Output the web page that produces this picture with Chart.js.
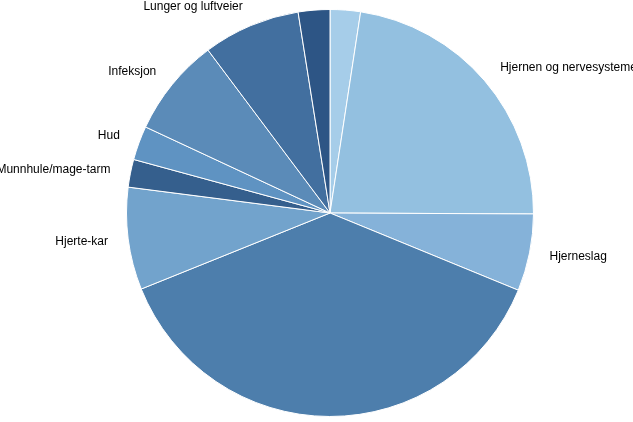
<!DOCTYPE html>
<html><head><meta charset="utf-8">
<script src="https://cdn.jsdelivr.net/npm/chart.js@4"></script>
<style>html,body{margin:0;padding:0;background:#fff}#wrap{width:633px;height:422px}</style>
</head><body><div id="wrap"><canvas id="c"></canvas></div>
<script>
const labels = ['Betennelse og immunsystem', 'Hjernen og nervesystemet', 'Hjerneslag', '', 'Hjerte-kar',
  'Munnhule/mage-tarm', 'Hud', 'Infeksjon', 'Lunger og luftveier', 'Muskel-skjelett'];
const values = [2.4, 22.6, 6.1, 37.6, 8.1, 2.2, 2.7, 7.8, 7.7, 2.5];
const colors = ['#a6cde9', '#93c0e0', '#85b2d9', '#4d7eac', '#72a3cc', '#355f8d', '#5f93c2', '#5b8bb8', '#426f9f', '#2d5585'];

const outLabels = {
  id: 'outLabels',
  afterDatasetsDraw(chart) {
    const ctx = chart.ctx;
    ctx.save();
    ctx.font = '12px "Liberation Sans", Arial, sans-serif';
    ctx.fillStyle = '#000';
    ctx.textBaseline = 'middle';
    chart.getDatasetMeta(0).data.forEach((arc, i) => {
      if (!labels[i]) return;
      const a = (arc.startAngle + arc.endAngle) / 2;
      const r = arc.outerRadius * 1.1;
      const x = arc.x + Math.cos(a) * r, y = arc.y + Math.sin(a) * r;
      const c = Math.cos(a);
      ctx.textAlign = Math.abs(c) < 0.2 ? 'center' : (c > 0 ? 'left' : 'right');
      ctx.fillText(labels[i], x, y);
    });
    ctx.restore();
  }
};

new Chart(document.getElementById('c'), {
  type: 'pie',
  data: { labels, datasets: [{ data: values, backgroundColor: colors, borderColor: '#fff', borderWidth: 1 }] },
  options: {
    responsive: true, maintainAspectRatio: false, animation: false,
    layout: { padding: { left: 27, right: 0, top: 9, bottom: 5 } },
    plugins: { legend: { display: false }, tooltip: { enabled: false } }
  },
  plugins: [outLabels]
});
</script></body></html>
